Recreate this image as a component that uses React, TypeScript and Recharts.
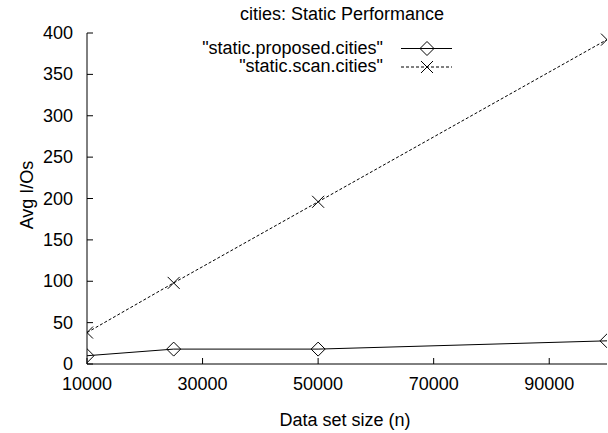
import React from "react";
import { LineChart, Line, XAxis, YAxis } from "recharts";

const sizes = [10000, 25000, 50000, 100000];
const proposed = [10, 18, 18, 28];
const scan = [38, 98, 196, 392];
const seriesNames = ['"static.proposed.cities"', '"static.scan.cities"'];
const xTicks = [10000, 30000, 50000, 70000, 90000];
const yTicks = [0, 50, 100, 150, 200, 250, 300, 350, 400];

const data = sizes.map((n, i) => ({ n, proposed: proposed[i], scan: scan[i] }));

const FONT = "'Liberation Sans', Arial, sans-serif";
const FS = 18;

function Diamond({ cx, cy }: any) {
  if (cx == null || cy == null) return null;
  const r = 7;
  return (
    <path
      d={`M${cx} ${cy - r} L${cx + r} ${cy} L${cx} ${cy + r} L${cx - r} ${cy} Z`}
      fill="none"
      stroke="#000"
      strokeWidth={1}
    />
  );
}

function Cross({ cx, cy }: any) {
  if (cx == null || cy == null) return null;
  const r = 6;
  return (
    <path
      d={`M${cx - r} ${cy - r} L${cx + r} ${cy + r} M${cx - r} ${cy + r} L${cx + r} ${cy - r}`}
      stroke="#000"
      strokeWidth={1}
    />
  );
}

const BottomTick = ({ x, y, payload }: any) => (
  <g>
    <line x1={x} x2={x} y1={y} y2={y - 6} stroke="#000" />
    <text x={x} y={y + 26} textAnchor="middle" fontFamily={FONT} fontSize={FS} fill="#000">
      {payload.value}
    </text>
  </g>
);

const TopTick = ({ x, y }: any) => <line x1={x} x2={x} y1={y} y2={y + 6} stroke="#000" />;

const LeftTick = ({ x, y, payload }: any) => (
  <g>
    <line x1={x} x2={x + 6} y1={y} y2={y} stroke="#000" />
    <text x={x - 14} y={y + 6} textAnchor="end" fontFamily={FONT} fontSize={FS} fill="#000">
      {payload.value}
    </text>
  </g>
);

const RightTick = ({ x, y }: any) => <line x1={x} x2={x - 6} y1={y} y2={y} stroke="#000" />;

export default function App() {
  return (
    <div style={{ position: "absolute", left: 0, top: 0, width: 608, height: 433, background: "#fff" }}>
      <LineChart width={608} height={433} data={data} margin={{ top: 33, right: 1, left: 0, bottom: 0 }}>
        <XAxis
          dataKey="n"
          type="number"
          domain={[10000, 100000]}
          ticks={xTicks}
          tickSize={0}
          tickMargin={0}
          tickLine={false}
          tick={<BottomTick />}
          axisLine={{ stroke: "#000" }}
          height={69}
          allowDataOverflow
        />
        <XAxis
          xAxisId="top"
          orientation="top"
          dataKey="n"
          type="number"
          domain={[10000, 100000]}
          ticks={xTicks}
          tickSize={0}
          tickMargin={0}
          tickLine={false}
          tick={<TopTick />}
          axisLine={{ stroke: "#000" }}
          height={0}
          allowDataOverflow
        />
        <YAxis
          type="number"
          domain={[0, 400]}
          ticks={yTicks}
          tickSize={0}
          tickMargin={0}
          tickLine={false}
          tick={<LeftTick />}
          axisLine={{ stroke: "#000" }}
          width={87}
          allowDataOverflow
        />
        <YAxis
          yAxisId="right"
          orientation="right"
          type="number"
          domain={[0, 400]}
          ticks={yTicks}
          tickSize={0}
          tickMargin={0}
          tickLine={false}
          tick={<RightTick />}
          axisLine={{ stroke: "#000" }}
          width={0}
          allowDataOverflow
        />
        <Line
          dataKey="proposed"
          name={seriesNames[0]}
          stroke="#000"
          strokeWidth={1}
          dot={<Diamond />}
          activeDot={false}
          isAnimationActive={false}
        />
        <Line
          dataKey="scan"
          name={seriesNames[1]}
          stroke="#000"
          strokeWidth={1}
          strokeDasharray="3 2"
          dot={<Cross />}
          activeDot={false}
          isAnimationActive={false}
        />
        <text x={342} y={20} textAnchor="middle" fontFamily={FONT} fontSize={FS} fill="#000">
          cities: Static Performance
        </text>
        <text x={345} y={426} textAnchor="middle" fontFamily={FONT} fontSize={FS} fill="#000">
          Data set size (n)
        </text>
        <text
          x={33}
          y={195}
          textAnchor="middle"
          fontFamily={FONT}
          fontSize={FS}
          fill="#000"
          transform="rotate(-90 33 195)"
        >
          Avg I/Os
        </text>
      </LineChart>
      <svg
        width={608}
        height={433}
        style={{ position: "absolute", left: 0, top: 0, pointerEvents: "none" }}
      >
        {seriesNames.map((name, i) => {
          const y = 48.5 + i * 18.5;
          return (
            <g key={name}>
              <text x={383} y={y + 5} textAnchor="end" fontFamily={FONT} fontSize={FS} fill="#000">
                {name}
              </text>
              <line
                x1={401}
                x2={452}
                y1={y}
                y2={y}
                stroke="#000"
                strokeDasharray={i === 1 ? "3 2" : undefined}
              />
              {i === 0 ? <Diamond cx={427} cy={y} /> : <Cross cx={427} cy={y} />}
            </g>
          );
        })}
      </svg>
    </div>
  );
}
